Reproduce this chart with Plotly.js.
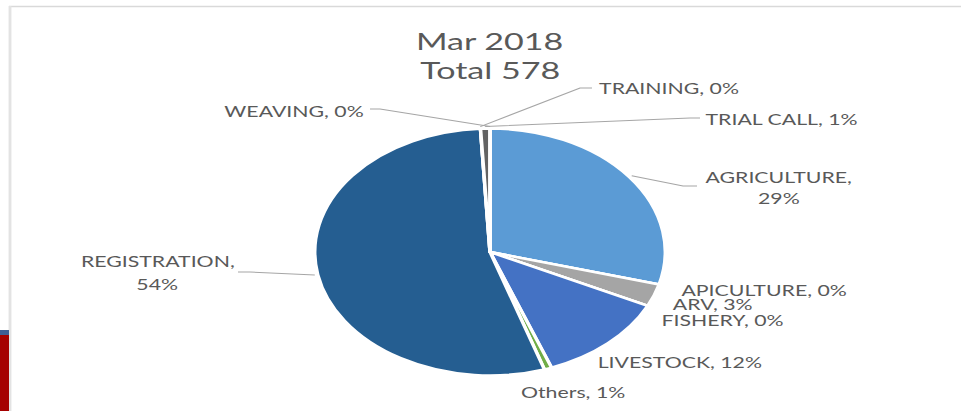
<!DOCTYPE html>
<html>
<head>
<meta charset="utf-8">
<script src="https://cdn.plot.ly/plotly-3.0.1.min.js"></script>
<style>
html,body{margin:0;padding:0;background:#fff;overflow:hidden;width:961px;height:411px;}
#chart{width:677px;height:411px;transform:scaleX(1.41950);transform-origin:0 0;}
</style>
</head>
<body>
<div id="chart"></div>
<script>
// ---- data ----
const chartMonth = 'Mar 2018';
const categories = ['AGRICULTURE','APICULTURE','ARV','FISHERY','LIVESTOCK','Others','REGISTRATION','TRAINING','TRIAL CALL','WEAVING'];
const counts = [169, 0, 17, 0, 70, 4, 313, 0, 5, 0];

// ---- styles ----
const sliceColors = ['#5B9BD5','#ED7D31','#A5A5A5','#FFC000','#4472C4','#70AD47','#255E91','#9E480E','#636363','#997300'];
const W = 961, H = 411;               // reference frame (page) size
const pieDomain = {x:[0.3275, 0.6923], y:[0.0864, 0.6874]};
const textColor = '#595959';
const fontFam = 'Lato, "Open Sans", sans-serif';

// label placement (reference pixels): x, y, anchor; two-line labels split at comma
const labelPos = {
  'AGRICULTURE':  {x:779, y:[177,198], anchor:'center', split:true},
  'APICULTURE':   {x:678, y:[290], anchor:'left'},
  'ARV':          {x:670, y:[304], anchor:'left'},
  'FISHERY':      {x:659, y:[320], anchor:'left'},
  'LIVESTOCK':    {x:595, y:[362], anchor:'left'},
  'Others':       {x:518, y:[392], anchor:'left'},
  'REGISTRATION': {x:157, y:[261,284], anchor:'center', split:true},
  'TRAINING':     {x:596, y:[88], anchor:'left'},
  'TRIAL CALL':   {x:703, y:[119], anchor:'left'},
  'WEAVING':      {x:366, y:[111], anchor:'right'}
};
// leader line routes (reference pixels) from the slice edge: elbow then end
const leaderRoute = {
  'AGRICULTURE':  [[683,186],[697,186]],
  'REGISTRATION': [[250,272],[238,272]],
  'TRAINING':     [[580,88],[592,88]],
  'TRIAL CALL':   [[690,118],[700,118]],
  'WEAVING':      [[380,109],[370,109]]
};

const total = counts.reduce((a,b)=>a+b,0);
const px = x => x / W;
const py = y => 1 - y / H;

// pie geometry in reference pixels
const cx = (pieDomain.x[0]+pieDomain.x[1])/2*W;
const rx = (pieDomain.x[1]-pieDomain.x[0])/2*W;
const cy = (1-(pieDomain.y[0]+pieDomain.y[1])/2)*H;
const ry = (pieDomain.y[1]-pieDomain.y[0])/2*H;

const annotations = [];
const shapes = [];

// title
annotations.push({text:chartMonth, x:px(490), y:py(40), xref:'paper', yref:'paper', xanchor:'center', yanchor:'middle', showarrow:false, font:{family:fontFam, size:24, color:textColor}});
annotations.push({text:'Total ' + total, x:px(490), y:py(69), xref:'paper', yref:'paper', xanchor:'center', yanchor:'middle', showarrow:false, font:{family:fontFam, size:24, color:textColor}});

let cum = 0;
categories.forEach((cat, i) => {
  const v = counts[i];
  const pct = Math.round(v/total*100) + '%';
  const mid = (cum + v/2) / total * 2*Math.PI;
  cum += v;
  const lp = labelPos[cat];
  const parts = lp.split ? [cat + ',', pct] : [cat + ', ' + pct];
  parts.forEach((t, k) => {
    annotations.push({text:t, x:px(lp.x), y:py(lp.y[k]), xref:'paper', yref:'paper', xanchor:lp.anchor, yanchor:'middle', showarrow:false, font:{family:fontFam, size:15, color:textColor}});
  });
  if (leaderRoute[cat]) {
    const tx = cx + (rx+3)*Math.sin(mid);
    const ty = cy - (ry+2)*Math.cos(mid);
    const pts = [[tx,ty]].concat(leaderRoute[cat]);
    const path = pts.map((p,k)=>(k?'L':'M') + px(p[0]).toFixed(5) + ',' + py(p[1]).toFixed(5)).join(' ');
    shapes.push({type:'path', xref:'paper', yref:'paper', path:path, line:{color:'#A6A6A6', width:1}});
  }
});

// chart area frame and slide edge remnants
shapes.push({type:'line', xref:'paper', yref:'paper', x0:px(9), x1:1, y0:py(6.5), y1:py(6.5), line:{color:'#D9D9D9', width:1.5}});
shapes.push({type:'line', xref:'paper', yref:'paper', x0:px(10), x1:px(10), y0:py(6), y1:0, line:{color:'#E3E3E3', width:2}});
shapes.push({type:'rect', xref:'paper', yref:'paper', x0:0, x1:px(9), y0:py(335), y1:0, fillcolor:'#A50000', line:{width:0}});
shapes.push({type:'rect', xref:'paper', yref:'paper', x0:0, x1:px(9), y0:py(330), y1:py(335), fillcolor:'#3E5E95', line:{width:0}});

const trace = {
  type:'pie',
  labels:categories,
  values:counts,
  sort:false,
  direction:'clockwise',
  rotation:0,
  textinfo:'none',
  hoverinfo:'label+percent',
  marker:{colors:sliceColors, line:{color:'#FFFFFF', width:2.5}},
  domain:pieDomain,
  showlegend:false
};

Plotly.newPlot('chart', [trace], {
  width:677, height:411,
  margin:{l:0, r:0, t:0, b:0},
  paper_bgcolor:'#FFFFFF',
  showlegend:false,
  annotations:annotations,
  shapes:shapes
}, {displayModeBar:false, staticPlot:true});
</script>
</body>
</html>
